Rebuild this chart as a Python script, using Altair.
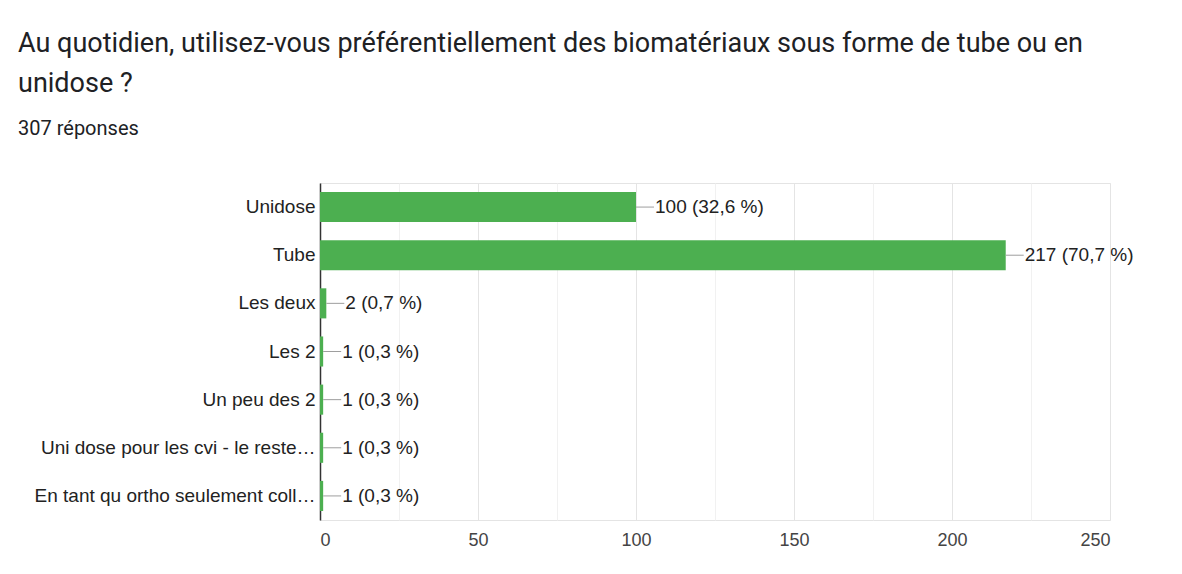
import altair as alt
import pandas as pd

categories = [
    "Unidose",
    "Tube",
    "Les deux",
    "Les 2",
    "Un peu des 2",
    "Uni dose pour les cvi - le reste…",
    "En tant qu ortho seulement coll…",
]
counts = [100, 217, 2, 1, 1, 1, 1]
value_labels = [
    "100 (32,6 %)",
    "217 (70,7 %)",
    "2 (0,7 %)",
    "1 (0,3 %)",
    "1 (0,3 %)",
    "1 (0,3 %)",
    "1 (0,3 %)",
]
x_ticks = [0, 25, 50, 75, 100, 125, 150, 175, 200, 225, 250]

df = pd.DataFrame({"cat": categories, "n": counts, "lab": value_labels})

LABEL_FONT = "Liberation Sans"
TITLE_FONT = "Roboto"

y_enc = alt.Y(
    "cat:N",
    sort=categories,
    title=None,
    scale=alt.Scale(paddingInner=0.375, paddingOuter=0.1875),
    axis=alt.Axis(
        labelFont=LABEL_FONT,
        labelFontSize=19,
        labelColor="#222222",
        labelPadding=5,
        labelLimit=400,
        ticks=False,
        domain=True,
        domainColor="#333333",
        domainWidth=1.5,
        grid=False,
    ),
)

x_enc = alt.X(
    "n:Q",
    title=None,
    scale=alt.Scale(domain=[0, 250], nice=False),
    axis=alt.Axis(
        values=x_ticks,
        labelExpr="datum.value % 50 === 0 ? datum.label : ''",
        labelFont=LABEL_FONT,
        labelFontSize=18,
        labelColor="#444444",
        labelPadding=11,
        ticks=False,
        domain=False,
        grid=True,
        gridColor={
            "condition": {"test": "datum.value % 50 === 0", "value": "#e4e4e4"},
            "value": "#f1f1f1",
        },
        gridWidth=1,
    ),
)

base = alt.Chart(df)

bars = base.mark_bar(color="#4caf50").encode(y=y_enc, x=x_enc)

connectors = base.mark_rule(color="#9e9e9e", strokeWidth=1, x2Offset=18).encode(
    y=alt.Y("cat:N", sort=categories),
    x=alt.X("n:Q"),
    x2=alt.X2("n"),
)

texts = base.mark_text(
    align="left",
    baseline="middle",
    dx=19,
    font=LABEL_FONT,
    fontSize=19,
    color="#222222",
).encode(
    y=alt.Y("cat:N", sort=categories),
    x=alt.X("n:Q"),
    text="lab:N",
)

chart = (
    alt.layer(bars, connectors, texts)
    .properties(
        width=790,
        height=337,
        autosize=alt.AutoSizeParams(type="none"),
        padding={"left": 312, "top": 175, "right": 64, "bottom": 46},
        background="white",
        title=alt.TitleParams(
            text=[
                "Au quotidien, utilisez-vous préférentiellement des biomatériaux sous forme de tube ou en",
                "unidose ?",
            ],
            subtitle="307 réponses",
            anchor="start",
            frame="group",
            dx=-302,
            offset=43,
            font=TITLE_FONT,
            fontSize=27,
            fontWeight="normal",
            color="#202124",
            lineHeight=40,
            subtitleFont=TITLE_FONT,
            subtitleFontSize=20,
            subtitleColor="#202124",
            subtitlePadding=21,
        ),
    )
    .configure_view(stroke="#e4e4e4", strokeWidth=1)
)

chart.save("out.html", embed_options={"renderer": "svg", "actions": False})
